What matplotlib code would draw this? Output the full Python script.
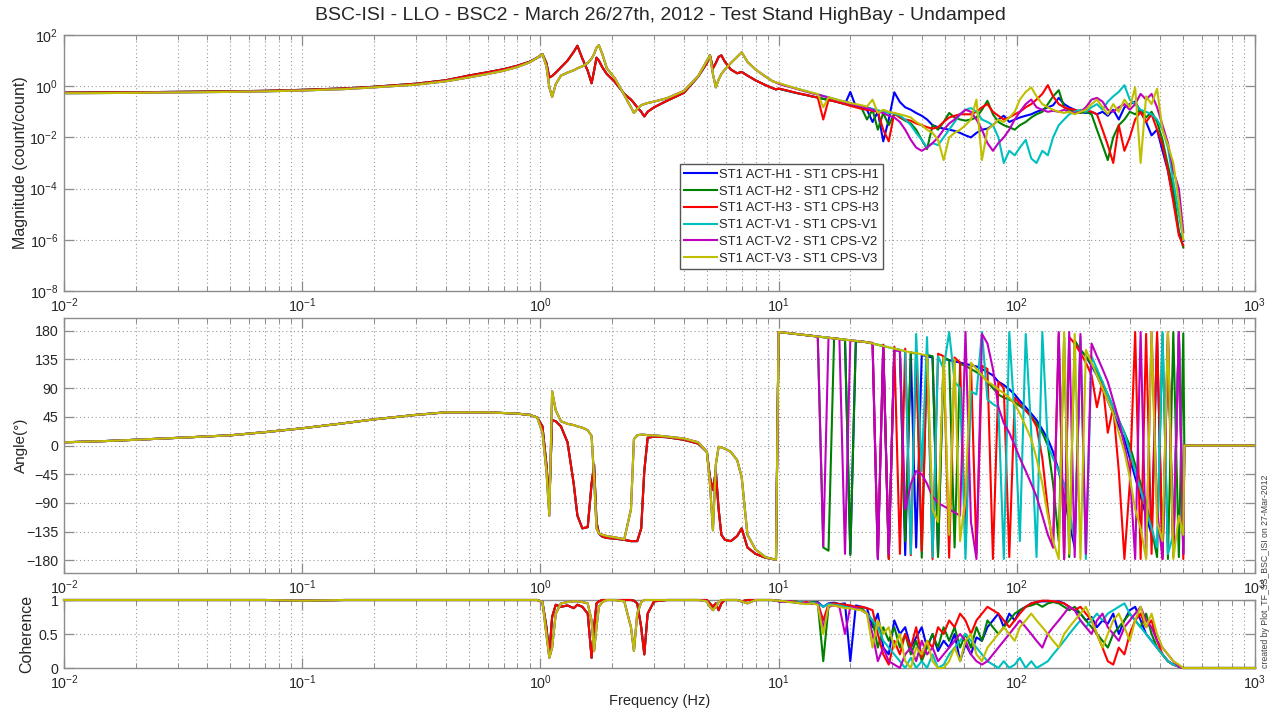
import numpy as np
import matplotlib
matplotlib.use('Agg')
import matplotlib.pyplot as plt
from matplotlib.ticker import LogLocator, NullLocator, NullFormatter, FixedLocator

plt.rcParams['font.family'] = ['Liberation Sans', 'DejaVu Sans']
plt.rcParams['mathtext.fontset'] = 'custom'
plt.rcParams['mathtext.rm'] = 'Liberation Sans'
plt.rcParams['mathtext.it'] = 'Liberation Sans:italic'
plt.rcParams['mathtext.default'] = 'regular'

# ---------------- data ----------------
TITLE = 'BSC-ISI - LLO - BSC2 - March 26/27th, 2012 - Test Stand HighBay - Undamped'
SERIES = ['H1', 'H2', 'H3', 'V1', 'V2', 'V3']
LABELS = ['ST1 ACT-H1 - ST1 CPS-H1', 'ST1 ACT-H2 - ST1 CPS-H2', 'ST1 ACT-H3 - ST1 CPS-H3',
          'ST1 ACT-V1 - ST1 CPS-V1', 'ST1 ACT-V2 - ST1 CPS-V2', 'ST1 ACT-V3 - ST1 CPS-V3']
COLORS = ['#0000ff', '#008000', '#ff0000', '#00bfbf', '#bf00bf', '#bfbf00']
GROUP = ['H', 'H', 'H', 'V', 'V', 'V']

# low-frequency part (0.01 - 9.75 Hz), shared per group
F_LO = [0.01, 0.015, 0.02, 0.03, 0.05, 0.07, 0.1, 0.15, 0.2, 0.3,
        0.4, 0.5, 0.6, 0.7, 0.8, 0.9, 0.97, 1.02, 1.06, 1.09,
        1.12, 1.16, 1.22, 1.3, 1.38, 1.43, 1.5, 1.58, 1.64, 1.68,
        1.72, 1.76, 1.82, 1.9, 2.05, 2.25, 2.4, 2.47, 2.55, 2.65,
        2.73, 2.82, 3.0, 3.4, 4.0, 4.6, 5.0, 5.15, 5.3, 5.45,
        5.6, 5.75, 5.95, 6.3, 6.7, 7.0, 7.4, 8.0, 8.8, 9.4,
        9.75]

MAG_LO_H = [0.56, 0.57, 0.58, 0.6, 0.63, 0.66, 0.72, 0.82, 0.95, 1.25,
            1.7, 2.6, 3.5, 4.6, 6.3, 9, 13, 18, 8, 2.2,
            2.5, 3.4, 5.5, 10, 22, 38, 12, 4, 1.3, 4,
            13, 10, 5.5, 3.0, 1.5, 0.5, 0.3, 0.22, 0.15, 0.1,
            0.066, 0.1, 0.15, 0.27, 0.55, 2.4, 8, 16, 5, 8,
            14, 16, 9, 4.5, 3.2, 3.6, 2.6, 1.7, 1.1, 0.85,
            0.75]
MAG_LO_V = [0.53, 0.54, 0.55, 0.57, 0.6, 0.63, 0.68, 0.77, 0.9, 1.15,
            1.55, 2.2, 3.0, 4.0, 5.6, 8.5, 13, 18, 6, 0.9,
            0.38, 1.2, 2.6, 3.4, 4.2, 5, 6, 8, 12, 18,
            32, 40, 18, 5, 2.1, 0.45, 0.15, 0.09, 0.13, 0.18,
            0.2, 0.22, 0.25, 0.34, 0.65, 2.5, 10, 16, 3, 0.9,
            1.8, 3, 4.5, 8, 14, 21, 9, 4.5, 2.4, 1.6,
            1.4]
PHASE_LO_H = [5, 7, 9, 12, 16, 21, 27, 35, 41, 48,
              52, 52, 52, 51, 50, 48, 44, 30, -30, -90,
              40, 38, 30, 5, -60, -110, -130, -128, -60, -30,
              -120, -138, -143, -145, -146, -148, -150, -150, -150, -130,
              -40, 12, 14, 13, 9, 3, -10, -50, -70, -40,
              -100, -140, -148, -150, -142, -130, -160, -170, -176, -178,
              -179]
PHASE_LO_V = [5, 7, 9, 12, 16, 21, 27, 35, 41, 48,
              52, 52, 52, 51, 50, 48, 44, 20, -40, -110,
              85, 55, 38, 34, 32, 30, 28, 24, 15, -50,
              -130, -138, -140, -142, -144, -147, -100, 10, 16, 17,
              17, 16, 16, 14, 11, 5, -10, -60, -133, -30,
              -2, -3, -5, -10, -23, -50, -140, -163, -175, -178,
              -179]
COH_LO_H = [1, 1, 1, 1, 1, 1, 0.99, 1, 1, 1,
            1, 1, 1, 1, 1, 1, 1, 0.97, 0.6, 0.2,
            0.75, 0.93, 0.9, 0.92, 0.88, 0.93, 0.9, 0.8, 0.15, 0.6,
            0.95, 0.98, 1, 1, 1, 1, 1, 0.99, 0.95, 0.6,
            0.2, 0.8, 0.98, 1, 1, 1, 1, 0.95, 0.9, 0.95,
            0.85, 0.95, 1, 1, 1, 0.98, 1, 1, 1, 1,
            0.99]
COH_LO_V = [1, 1, 1, 1, 1, 1, 0.99, 1, 1, 1,
            1, 1, 1, 1, 1, 1, 1, 0.97, 0.5, 0.15,
            0.3, 0.8, 0.95, 0.97, 0.98, 0.98, 0.97, 0.95, 0.7, 0.25,
            0.6, 0.9, 0.97, 1, 1, 0.98, 0.6, 0.25, 0.8, 0.97,
            1, 1, 1, 1, 1, 1, 0.98, 0.9, 0.85, 0.9,
            0.97, 1, 1, 1, 1, 0.98, 0.95, 1, 1, 1,
            0.99]

# high-frequency part (10 - 500 Hz), per series
F_HI = [10, 10.6, 11.2, 11.8, 12.4, 13.1, 13.8, 14.6, 15.4, 16.2,
        17.1, 18, 19, 20, 21.1, 22.3, 23.5, 24.8, 26.1, 27.5,
        29, 30.6, 32.3, 34, 35.9, 37.8, 39.9, 42, 44.3, 46.7,
        49.3, 52, 54.8, 57.8, 60.9, 64.2, 67.7, 71.4, 75.3, 79.4,
        83.7, 88.2, 93, 98, 103, 109, 115, 121, 128, 135,
        142, 150, 158, 166, 175, 185, 195, 206, 217, 229,
        241, 254, 268, 283, 298, 314, 331, 349, 368, 388,
        409, 431, 454, 479, 500]

MAG_HI_H1 = [0.8, 0.7, 0.62, 0.55, 0.5, 0.45, 0.4, 0.36, 0.32, 0.29,
             0.26, 0.23, 0.2, 0.6, 0.16, 0.14, 0.12, 0.04, 0.1, 0.007,
             0.05, 0.58, 0.24, 0.15, 0.12, 0.09, 0.07, 0.05, 0.03, 0.025,
             0.022, 0.02, 0.018, 0.015, 0.012, 0.01, 0.015, 0.02, 0.022, 0.03,
             0.05, 0.07, 0.04, 0.05, 0.06, 0.07, 0.08, 0.1, 0.12, 0.15,
             0.18, 0.35, 0.2, 0.15, 0.12, 0.1, 0.09, 0.1, 0.08, 0.1,
             0.07, 0.12, 0.05, 0.15, 0.2, 0.25, 0.1, 0.04, 0.012, 0.02,
             0.003, 5e-4, 4e-5, 2e-6, 9e-7]
MAG_HI_H2 = [0.8, 0.7, 0.62, 0.55, 0.5, 0.45, 0.4, 0.36, 0.32, 0.29,
             0.26, 0.23, 0.2, 0.18, 0.16, 0.14, 0.05, 0.12, 0.02, 0.09,
             0.03, 0.085, 0.06, 0.045, 0.035, 0.02, 0.008, 0.0035, 0.03, 0.02,
             0.04, 0.09, 0.06, 0.05, 0.045, 0.05, 0.06, 0.12, 0.27, 0.08,
             0.04, 0.03, 0.025, 0.02, 0.03, 0.04, 0.06, 0.08, 0.1, 0.2,
             0.4, 0.7, 0.15, 0.12, 0.1, 0.09, 0.1, 0.08, 0.02, 0.005,
             0.0013, 0.01, 0.03, 0.05, 0.1, 0.08, 0.12, 0.06, 0.1, 0.04,
             0.008, 8e-4, 1e-4, 2e-6, 5e-7]
MAG_HI_H3 = [0.82, 0.72, 0.63, 0.56, 0.5, 0.45, 0.4, 0.36, 0.05, 0.29,
             0.26, 0.23, 0.2, 0.17, 0.15, 0.13, 0.12, 0.11, 0.1, 0.02,
             0.007, 0.09, 0.06, 0.05, 0.045, 0.035, 0.03, 0.025, 0.022, 0.025,
             0.04, 0.06, 0.07, 0.08, 0.08, 0.08, 0.1, 0.15, 0.2, 0.1,
             0.07, 0.05, 0.06, 0.08, 0.1, 0.15, 0.2, 0.3, 0.5, 1.1,
             0.4, 0.2, 0.15, 0.13, 0.12, 0.1, 0.12, 0.1, 0.08, 0.02,
             0.005, 0.001, 0.03, 0.003, 0.01, 0.05, 0.1, 0.04, 0.08, 0.02,
             0.005, 5e-4, 3e-5, 1.5e-6, 6e-7]
MAG_HI_V1 = [1.3, 1.1, 0.95, 0.82, 0.72, 0.63, 0.55, 0.48, 0.42, 0.37,
             0.32, 0.28, 0.25, 0.22, 0.19, 0.17, 0.15, 0.13, 0.115, 0.1,
             0.09, 0.085, 0.07, 0.05, 0.03, 0.015, 0.008, 0.004, 0.006, 0.005,
             0.01, 0.02, 0.04, 0.08, 0.12, 0.14, 0.1, 0.05, 0.04, 0.03,
             0.01, 0.001, 0.003, 0.002, 0.004, 0.008, 0.0015, 0.001, 0.003, 0.002,
             0.01, 0.03, 0.05, 0.08, 0.1, 0.12, 0.1, 0.15, 0.2, 0.12,
             0.25, 0.4, 0.6, 1.1, 0.3, 0.2, 0.12, 0.1, 0.08, 0.05,
             0.02, 0.004, 2e-4, 1e-5, 1e-6]
MAG_HI_V2 = [1.25, 1.05, 0.92, 0.8, 0.7, 0.61, 0.53, 0.47, 0.41, 0.36,
             0.31, 0.27, 0.24, 0.21, 0.18, 0.16, 0.14, 0.12, 0.1, 0.09,
             0.07, 0.06, 0.04, 0.02, 0.008, 0.004, 0.003, 0.004, 0.006, 0.01,
             0.02, 0.035, 0.05, 0.08, 0.12, 0.1, 0.05, 0.02, 0.006, 0.003,
             0.006, 0.01, 0.02, 0.05, 0.1, 0.2, 0.3, 0.15, 0.12, 0.1,
             0.11, 0.1, 0.12, 0.1, 0.09, 0.1, 0.15, 0.3, 0.35, 0.25,
             0.12, 0.1, 0.15, 0.2, 0.12, 0.2, 0.5, 0.3, 0.5, 0.15,
             0.03, 0.006, 5e-4, 1e-4, 2e-6]
MAG_HI_V3 = [1.35, 1.12, 0.96, 0.83, 0.73, 0.64, 0.56, 0.49, 0.15, 0.37,
             0.32, 0.28, 0.25, 0.22, 0.2, 0.18, 0.16, 0.3, 0.09, 0.12,
             0.1, 0.09, 0.08, 0.07, 0.06, 0.04, 0.03, 0.02, 0.015, 0.008,
             0.0013, 0.01, 0.015, 0.02, 0.03, 0.05, 0.3, 0.0013, 0.02, 0.03,
             0.05, 0.04, 0.06, 0.1, 0.3, 0.6, 0.9, 0.4, 0.2, 0.15,
             0.12, 0.1, 0.09, 0.1, 0.08, 0.1, 0.12, 0.2, 0.3, 0.15,
             0.08, 0.2, 0.1, 0.3, 0.15, 0.9, 0.001, 0.4, 0.2, 0.8,
             0.02, 0.005, 0.001, 3e-5, 1e-6]

PH_HI_H1 = [178, 177, 176, 175, 174, 173, 172, 171, 170, 169,
            168, 167, 166, -170, 164, 163, 162, 160, -178, 158,
            -175, 150, 148, -172, 146, -160, 142, 140, 138, -170,
            136, 134, 132, 130, 128, 126, 124, 120, 115, 110,
            100, 95, 88, 80, 70, 60, 50, 40, 25, 10,
            -10, -40, -80, -120, -160, 150, 140, 125, 110, 90,
            70, 50, 30, 10, -20, -50, -80, -110, -140, 170,
            -175, 160, -170, 175, -170]
PH_HI_H2 = [178, 177, 176, 175, 174, 173, 172, 171, -160, -165,
            168, 167, 166, -172, 164, 163, 162, 160, 158, 156,
            -178, 152, 150, -150, 146, 144, -176, 142, 140, -175,
            138, 134, -160, 128, 125, 120, 115, 110, 100, 90,
            80, 75, 72, 68, 62, 55, 45, 35, 20, 0,
            -60, -150, 170, -175, 165, 150, 140, 128, 115, 95,
            80, 60, 40, 20, 0, -30, -60, -90, -130, -175,
            175, -178, 178, -175, 176]
PH_HI_H3 = [178, 177, 176, 175, 174, 173, 172, 171, 170, 169,
            168, 167, 166, 165, 164, 163, 162, 161, -175, 158,
            -178, 155, -170, 152, -172, 150, -165, 148, -178, 144,
            140, -176, 138, 130, -160, 128, -170, 125, 120, -178,
            100, 90, -175, 75, 65, 55, 45, 30, -20, -100,
            -160, 175, -178, 170, 160, 145, 130, 110, 60, 100,
            20, 60, -40, -178, -60, 178, -178, 175, -170, 178,
            -178, 175, -175, 178, -178]
PH_HI_V1 = [178, 177, 176, 175, 174, 173, 172, 171, 170, 169,
            168, 167, 166, 165, 164, 163, 162, 160, 158, 156,
            154, 152, 150, 148, -170, 175, -40, 170, -175, 140,
            120, 178, 100, 90, -178, 85, 80, 178, 72, 65,
            60, -178, 178, 40, -150, 175, 20, -175, 178, 0,
            -20, -40, -60, -100, -150, 170, -178, 140, 120, 100,
            80, 60, 40, 20, -10, -40, -70, -100, -130, -160,
            178, -170, -140, 178, -160]
PH_HI_V2 = [178, 177, 176, 175, 174, 173, 172, 171, -158, 169,
            168, 167, -170, 165, 164, 163, 162, 160, -178, 156,
            -170, 150, 148, -100, -60, -40, -45, -60, -80, -90,
            -95, -100, -105, -110, 178, -120, -178, 175, 160, 120,
            60, 35, 20, 0, -20, -40, -60, -80, -110, -140,
            -160, 178, -178, 178, -175, 175, -170, 160, 140, 120,
            100, 70, 40, 0, -40, -178, 178, -175, 178, -100,
            -178, 178, -160, 178, -170]
PH_HI_V3 = [178, 177, 176, 175, 174, 173, 172, 171, 170, 169,
            168, 167, 166, 165, 164, 163, 162, 160, 158, 156,
            154, 152, 150, 148, 146, 145, 143, 141, -100, -120,
            138, -140, 135, -150, -80, 130, 120, 110, 100, 95,
            88, 82, 75, 65, 50, 30, 10, -20, -60, -110,
            -150, -178, 178, -170, 175, -178, 150, 130, 110, 90,
            70, 50, 20, -10, -50, -100, -130, -178, 178, -120,
            -150, 178, -178, -110, -140]

COH_HI_H1 = [0.98, 0.97, 0.98, 0.96, 0.97, 0.95, 0.96, 0.97, 0.9, 0.95,
             0.96, 0.94, 0.95, 0.1, 0.92, 0.9, 0.88, 0.6, 0.8, 0.3,
             0.2, 0.7, 0.5, 0.6, 0.3, 0.45, 0.6, 0.3, 0.5, 0.25,
             0.4, 0.3, 0.5, 0.1, 0.35, 0.2, 0.45, 0.4, 0.6, 0.7,
             0.8, 0.6, 0.8, 0.7, 0.85, 0.9, 0.95, 0.97, 0.98, 0.98,
             0.97, 0.98, 0.95, 0.9, 0.85, 0.8, 0.7, 0.75, 0.6, 0.7,
             0.65, 0.8, 0.5, 0.7, 0.85, 0.9, 0.7, 0.5, 0.4, 0.3,
             0.2, 0.1, 0.05, 0.02, 0]
COH_HI_H2 = [0.99, 0.98, 0.97, 0.98, 0.96, 0.95, 0.97, 0.96, 0.1, 0.9,
             0.95, 0.94, 0.93, 0.9, 0.9, 0.88, 0.8, 0.7, 0.3, 0.6,
             0.4, 0.6, 0.3, 0.5, 0.2, 0.4, 0.1, 0.3, 0.5, 0.3,
             0.6, 0.4, 0.6, 0.3, 0.5, 0.3, 0.6, 0.4, 0.7, 0.6,
             0.5, 0.6, 0.7, 0.8, 0.85, 0.9, 0.92, 0.95, 0.9, 0.95,
             0.97, 0.95, 0.9, 0.85, 0.9, 0.8, 0.7, 0.6, 0.5, 0.4,
             0.3, 0.5, 0.6, 0.7, 0.8, 0.7, 0.6, 0.8, 0.5, 0.3,
             0.2, 0.1, 0.05, 0.02, 0]
COH_HI_H3 = [0.99, 0.98, 0.98, 0.97, 0.96, 0.97, 0.95, 0.96, 0.7, 0.94,
             0.95, 0.94, 0.93, 0.92, 0.9, 0.9, 0.88, 0.85, 0.5, 0.2,
             0.05, 0.4, 0.2, 0.5, 0.3, 0.6, 0.15, 0.4, 0.3, 0.6,
             0.5, 0.7, 0.6, 0.8, 0.7, 0.5, 0.7, 0.8, 0.9, 0.85,
             0.8, 0.7, 0.6, 0.7, 0.8, 0.9, 0.95, 0.97, 0.99, 0.99,
             0.98, 0.97, 0.95, 0.9, 0.85, 0.9, 0.8, 0.7, 0.5, 0.3,
             0.1, 0.05, 0.3, 0.2, 0.5, 0.7, 0.8, 0.6, 0.7, 0.4,
             0.2, 0.1, 0.05, 0.02, 0]
COH_HI_V1 = [0.99, 0.98, 0.97, 0.96, 0.97, 0.95, 0.96, 0.95, 0.9, 0.94,
             0.93, 0.92, 0.9, 0.88, 0.88, 0.85, 0.8, 0.7, 0.6, 0.4,
             0.3, 0.2, 0.1, 0, 0.15, 0, 0.1, 0, 0.2, 0,
             0.05, 0.2, 0.3, 0.4, 0.5, 0.4, 0.3, 0.2, 0.1, 0.05,
             0, 0.1, 0, 0.05, 0.15, 0, 0.1, 0, 0.05, 0.1,
             0.2, 0.3, 0.4, 0.5, 0.6, 0.7, 0.6, 0.7, 0.8, 0.7,
             0.8, 0.85, 0.9, 0.95, 0.8, 0.7, 0.6, 0.5, 0.4, 0.3,
             0.2, 0.1, 0.05, 0.02, 0]
COH_HI_V2 = [0.98, 0.97, 0.98, 0.96, 0.95, 0.96, 0.94, 0.95, 0.6, 0.9,
             0.92, 0.9, 0.5, 0.9, 0.88, 0.85, 0.8, 0.5, 0.1, 0.3,
             0.1, 0.05, 0, 0.2, 0.3, 0.1, 0.4, 0.2, 0.3, 0.1,
             0.2, 0.3, 0.4, 0.5, 0.4, 0.2, 0.1, 0.05, 0.1, 0.2,
             0.3, 0.4, 0.5, 0.6, 0.7, 0.6, 0.5, 0.4, 0.3, 0.5,
             0.6, 0.7, 0.8, 0.9, 0.85, 0.7, 0.6, 0.5, 0.7, 0.8,
             0.6, 0.5, 0.4, 0.6, 0.7, 0.8, 0.9, 0.7, 0.6, 0.4,
             0.3, 0.2, 0.1, 0.02, 0]
COH_HI_V3 = [0.99, 0.98, 0.97, 0.96, 0.95, 0.94, 0.95, 0.93, 0.5, 0.92,
             0.92, 0.9, 0.88, 0.88, 0.86, 0.85, 0.8, 0.3, 0.7, 0.5,
             0.6, 0.3, 0.5, 0.1, 0, 0.3, 0.2, 0.4, 0.1, 0,
             0, 0.1, 0.3, 0.1, 0.4, 0.5, 0.2, 0.1, 0.3, 0.4,
             0.5, 0.6, 0.5, 0.4, 0.6, 0.7, 0.8, 0.7, 0.6, 0.5,
             0.4, 0.3, 0.5, 0.6, 0.7, 0.8, 0.9, 0.7, 0.5, 0.3,
             0.5, 0.7, 0.8, 0.6, 0.4, 0.7, 0.9, 0.6, 0.8, 0.5,
             0.3, 0.2, 0.1, 0.05, 0]

# beyond the measured band: phase and coherence read 0
F_TAIL = [505, 1000]
PHASE_TAIL = [0, 0]
COH_TAIL = [0, 0]

MAG_LO = {'H': MAG_LO_H, 'V': MAG_LO_V}
PHASE_LO = {'H': PHASE_LO_H, 'V': PHASE_LO_V}
COH_LO = {'H': COH_LO_H, 'V': COH_LO_V}
MAG_HI = [MAG_HI_H1, MAG_HI_H2, MAG_HI_H3, MAG_HI_V1, MAG_HI_V2, MAG_HI_V3]
PH_HI = [PH_HI_H1, PH_HI_H2, PH_HI_H3, PH_HI_V1, PH_HI_V2, PH_HI_V3]
COH_HI = [COH_HI_H1, COH_HI_H2, COH_HI_H3, COH_HI_V1, COH_HI_V2, COH_HI_V3]

MAG_TICKS = [1e-8, 1e-6, 1e-4, 1e-2, 1e0, 1e2]
PHASE_TICKS = [-180, -135, -90, -45, 0, 45, 90, 135, 180]
COH_TICKS = [0, 0.5, 1]
COH_TICKLABELS = ['0', '0.5', '1']

# ---------------- figure ----------------
SPINE = '#8c8c8c'
GRID = '#9a9a9a'
TXT = '#262626'

fig = plt.figure(figsize=(12.75, 7.15), dpi=100)
L, W = 64 / 1275, 1191 / 1275
ax1 = fig.add_axes([L, 1 - 291 / 715, W, 256 / 715])
ax2 = fig.add_axes([L, 1 - 573 / 715, W, 255 / 715])
ax3 = fig.add_axes([L, 1 - 668 / 715, W, 68 / 715])


def style(ax):
    ax.set_xscale('log')
    ax.set_xlim(1e-2, 1e3)
    ax.xaxis.set_major_locator(LogLocator(base=10, numticks=12))
    ax.xaxis.set_minor_locator(LogLocator(base=10, subs=np.arange(2, 10), numticks=120))
    ax.xaxis.set_minor_formatter(NullFormatter())
    ax.tick_params(which='both', direction='in', top=True, right=True,
                   color=SPINE, labelcolor=TXT, labelsize=10.3, pad=4)
    ax.tick_params(which='major', length=7, width=0.9)
    ax.tick_params(which='minor', length=3.5, width=0.7)
    ax.grid(True, which='major', linestyle=(0, (1, 2.5)), color=GRID, linewidth=0.8)
    ax.grid(True, which='minor', axis='x', linestyle=(0, (1, 2.5)), color=GRID, linewidth=0.8)
    ax.set_axisbelow(True)
    for s in ax.spines.values():
        s.set_color(SPINE)
        s.set_linewidth(1.0)


for ax in (ax1, ax2, ax3):
    style(ax)

LW = 1.5
for i, name in enumerate(SERIES):
    g = GROUP[i]
    f_main = F_LO + F_HI
    ax1.loglog(f_main, MAG_LO[g] + MAG_HI[i], color=COLORS[i], lw=LW, label=LABELS[i])
    ax2.semilogx(f_main + F_TAIL, PHASE_LO[g] + PH_HI[i] + PHASE_TAIL, color=COLORS[i], lw=LW)
    ax3.semilogx(f_main + F_TAIL, COH_LO[g] + COH_HI[i] + COH_TAIL, color=COLORS[i], lw=LW,
                 clip_on=False, zorder=3)

ax1.set_ylim(1e-8, 1e2)
ax1.yaxis.set_major_locator(FixedLocator(MAG_TICKS))
ax1.yaxis.set_minor_locator(NullLocator())
ax1.set_ylabel('Magnitude (count/count)', fontsize=11.5, color=TXT)
ax1.yaxis.set_label_coords(-0.030, 0.5)

ax2.set_ylim(-200, 200)
ax2.set_yticks(PHASE_TICKS)
ax2.set_ylabel('Angle(°)', fontsize=11, color=TXT)
ax2.yaxis.set_label_coords(-0.030, 0.5)

ax3.set_ylim(0, 1)
ax3.set_yticks(COH_TICKS)
ax3.set_yticklabels(COH_TICKLABELS)
ax3.set_ylabel('Coherence', fontsize=11.5, color=TXT)
ax3.yaxis.set_label_coords(-0.025, 0.5)
ax3.set_xlabel('Frequency (Hz)', fontsize=10.5, color=TXT, labelpad=1)

for ax in (ax1, ax2, ax3):
    ax.set_xlim(1e-2, 1e3)

leg = ax1.legend(loc='upper left', bbox_to_anchor=(0.517, 0.495), fontsize=9.4,
                 frameon=True, fancybox=False, edgecolor='#555555', framealpha=1,
                 handlelength=2.5, handletextpad=0.15, labelspacing=0.35, borderpad=0.35,
                 borderaxespad=0)
leg.get_frame().set_linewidth(1.0)
for t in leg.get_texts():
    t.set_color(TXT)

fig.text(660 / 1275, 1 - 15 / 715, TITLE, ha='center', va='center', fontsize=14, color=TXT)
fig.text(1266 / 1275, 1 - 571 / 715, 'created by Plot_TF_SS_BSC_ISI on 27-Mar-2012',
         rotation=90, ha='center', va='center', fontsize=6.3, color='#404040')

fig.savefig('out.png', dpi=100, facecolor='white')
